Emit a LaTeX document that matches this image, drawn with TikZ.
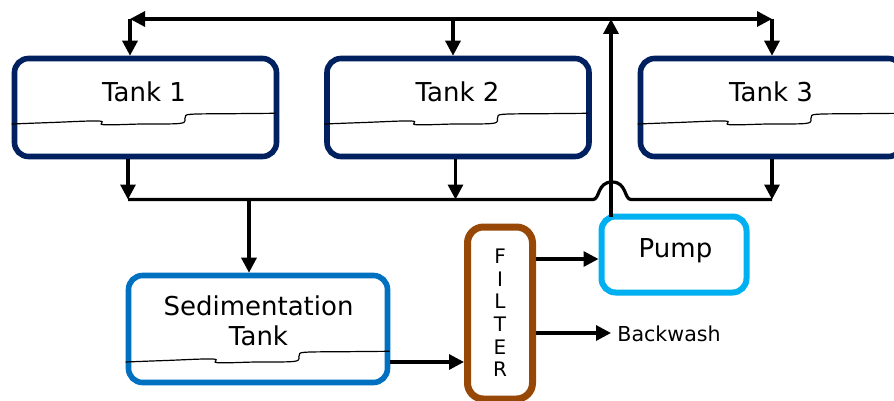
\documentclass[tikz,border=0pt]{standalone}
\usepackage{fontspec}
\setmainfont{DejaVu Sans}
\usetikzlibrary{arrows.meta}

\definecolor{tanknavy}{RGB}{0,32,96}
\definecolor{sedblue}{RGB}{0,112,192}
\definecolor{pumpcyan}{RGB}{0,176,240}
\definecolor{filterbrown}{RGB}{151,72,7}

\tikzset{
    flow/.style={line width=1.6pt, ->},
    bus/.style={line width=1.6pt},
    water/.style={line width=0.6pt},
    tankbox/.style={draw=tanknavy, line width=2.8pt, rounded corners=7pt, fill=white,
        minimum width=131pt, minimum height=49pt},
    sedbox/.style={draw=sedblue, line width=2.8pt, rounded corners=7pt, fill=white,
        minimum width=129.5pt, minimum height=53.5pt},
    pumpbox/.style={draw=pumpcyan, line width=3pt, rounded corners=7pt, fill=white,
        minimum width=72.5pt, minimum height=38pt},
    filterbox/.style={draw=filterbrown, line width=3.5pt, rounded corners=8pt, fill=white,
        minimum width=32.5pt, minimum height=86pt, align=center,
        font=\fontsize{10}{11.3}\selectfont},
    lbl/.style={font=\fontsize{13}{15}\selectfont, inner sep=0pt, align=center},
    smalllbl/.style={font=\fontsize{10.3}{12}\selectfont, inner xsep=3pt, inner ysep=0pt}
}

\begin{document}
\begin{tikzpicture}[x=0.5pt, y=-0.5pt, >={Triangle[length=7.5pt,width=7.5pt]}]
        \useasboundingbox (0,0) rectangle (894,401);

        \node[tankbox] (tank1) at (145.5,107.5) {};
        \node[tankbox] (tank2) at (458,107.5) {};
        \node[tankbox] (tank3) at (771.5,107.5) {};
        \node[sedbox] (sed) at (258,329) {};
        \node[pumpbox] (pump) at (674,254.5) {};
        \node[filterbox] (filter) at (500,313) {F\\I\\L\\T\\E\\R};

        \node[lbl, anchor=base] (t1txt) at (144,101.5) {Tank 1};
        \node[lbl, anchor=base] (t2txt) at (457.5,101.5) {Tank 2};
        \node[lbl, anchor=base] (t3txt) at (771,101.5) {Tank 3};
        \node[lbl, anchor=base] (sedtxt) at (258.5,345) {Sedimentation\\Tank};
        \node[lbl, anchor=base] (pumptxt) at (675.5,257) {Pump};
        \node[smalllbl, anchor=base west] (bw) at (611,341.7) {Backwash};

        \foreach \tk/\dy in {tank1/16.5, tank2/16.5, tank3/16.5, sed/33}
            \draw[water, shift={(\tk.west)}] plot[smooth, tension=0.6] coordinates
                {(0,\dy) (40,\dy-1.5) (87,\dy-3) (92,\dy+0.7) (130,\dy) (169,\dy-0.7)
                 (173.5,\dy-6.5) (179,\dy-9.7) (220,\dy-10.3) (264,\dy-10.7)};

        \coordinate (tl) at (130,19);
        \coordinate (tm) at (453,19);
        \coordinate (tp) at (611,19);
        \coordinate (tr) at (772,19);
        \coordinate (pin) at (611,216.5);

        \coordinate (bl) at (128,199.5);
        \coordinate (bs) at (249,199.5);
        \coordinate (bm) at (455.5,199.5);
        \coordinate (jl) at (593,199.5);
        \coordinate (jr) at (631,199.5);
        \coordinate (br) at (772,199.5);

        \draw[bus, <->] (tl) -- (tr);
        \draw[flow] (tl) -- (tl |- tank1.north);
        \draw[flow] (tm) -- (tm |- tank2.north);
        \draw[flow] (tr) -- (tr |- tank3.north);
        \draw[flow] (pin) -- (tp);

        \draw[bus] (bl) -- (jl) .. controls (600,199.5) and (597,182) .. (612,182)
            .. controls (627,182) and (624,199.5) .. (jr) -- (br);
        \draw[flow] (bl |- tank1.south) -- (bl);
        \draw[flow] (bm |- tank2.south) -- (bm);
        \draw[flow] (br |- tank3.south) -- (br);
        \draw[flow] (bs) -- (bs |- sed.north);

        \draw[flow] (sed.east |- 0,362) -- (filter.west |- 0,362);
        \draw[flow] (filter.east |- 0,259) -- (pump.west |- 0,259);
        \draw[flow] (filter.east |- 0,333) -- (bw.west |- 0,333);
    \end{tikzpicture}
\end{document}
